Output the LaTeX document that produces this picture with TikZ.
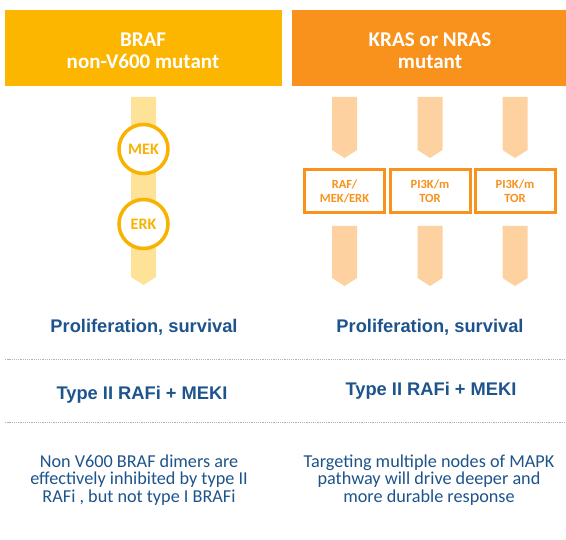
\documentclass[tikz,border=0pt]{standalone}
\usepackage{fontspec}
\setmainfont{Carlito}
\newfontfamily\headfont{Liberation Sans}
\begin{document}
\begin{tikzpicture}[x=1pt,y=-1pt,
  every node/.style={inner sep=0pt, outer sep=0pt},
  hdrtext/.style={text=white, font=\fontsize{21}{22}\selectfont\bfseries, align=center},
  bluehead/.style={text=textblue, font=\headfont\fontsize{18.3}{20}\selectfont\bfseries, anchor=base},
  bodytext/.style={text=textblue, font=\fontsize{18.2}{17.3}\selectfont, align=center},
  ringnode/.style={circle, draw=ringorange, line width=3.5pt, fill=white, minimum size=49pt,
    text=ringorange, font=\fontsize{16}{17}\selectfont\bfseries},
  pathbox/.style={draw=boxorange, line width=3pt, fill=white, minimum width=80pt, minimum height=43pt,
    text=boxorange, font=\fontsize{12.5}{14}\selectfont\bfseries, align=center},
  sepline/.style={draw=gray!60, line width=1pt, dash pattern=on 1.3pt off 0.9pt}
]
\definecolor{hdryellow}{RGB}{252,182,0}
\definecolor{hdrorange}{RGB}{248,146,28}
\definecolor{ringorange}{RGB}{249,178,0}
\definecolor{boxorange}{RGB}{248,146,28}
\definecolor{lightyellow}{RGB}{253,226,152}
\definecolor{lightorange}{RGB}{253,210,160}
\definecolor{textblue}{RGB}{30,84,140}

\useasboundingbox (0,0) rectangle (566,540);
\fill[white] (0,0) rectangle (566,540);

% column headers
\fill[hdryellow] (5,10) rectangle (281.5,86);
\fill[hdrorange] (292,10) rectangle (566,86);
\node[hdrtext] (hdrL) at (143,51) {BRAF\\non-V600 mutant};
\node[hdrtext] (hdrR) at (430,51) {KRAS or NRAS\\mutant};

% left pathway: single arrow through MEK and ERK
\fill[lightyellow] (131,97) -- (156,97) -- (156,277) -- (143.5,285) -- (131,277) -- cycle;
\node[ringnode] (mek) at (143.5,149) {MEK};
\node[ringnode] (erk) at (143.5,224) {ERK};

% right pathway: three parallel arrows through the node boxes
\foreach \cx in {344.5,430,515}{
  \fill[lightorange] (\cx-12.5,97) -- (\cx+12.5,97) -- (\cx+12.5,150) -- (\cx,158) -- (\cx-12.5,150) -- cycle;
  \fill[lightorange] (\cx-12.5,226) -- (\cx+12.5,226) -- (\cx+12.5,278) -- (\cx,286) -- (\cx-12.5,278) -- cycle;
}
\node[pathbox] (raf) at (344.5,191) {RAF/\\MEK/ERK};
\node[pathbox] (pi3a) at (430,191) {PI3K/m\\TOR};
\node[pathbox] (pi3b) at (515,191) {PI3K/m\\TOR};

% outcomes
\node[bluehead] (outL) at (144,333) {Proliferation, survival};
\node[bluehead] (outR) at (430,333) {Proliferation, survival};

\draw[sepline] (5,360) -- (566,360);

% treatments
\node[bluehead] (trtL) at (142,399.5) {Type II RAFi + MEKI};
\node[bluehead] (trtR) at (431,395.5) {Type II RAFi + MEKI};

\draw[sepline] (5,423) -- (566,423);

% rationale
\node[bodytext] (noteL) at (139,480) {Non V600 BRAF dimers are\\effectively inhibited by type II\\RAFi , but not type I BRAFi};
\node[bodytext] (noteR) at (429,480) {Targeting multiple nodes of MAPK\\pathway will drive deeper and\\more durable response};
\end{tikzpicture}
\end{document}
